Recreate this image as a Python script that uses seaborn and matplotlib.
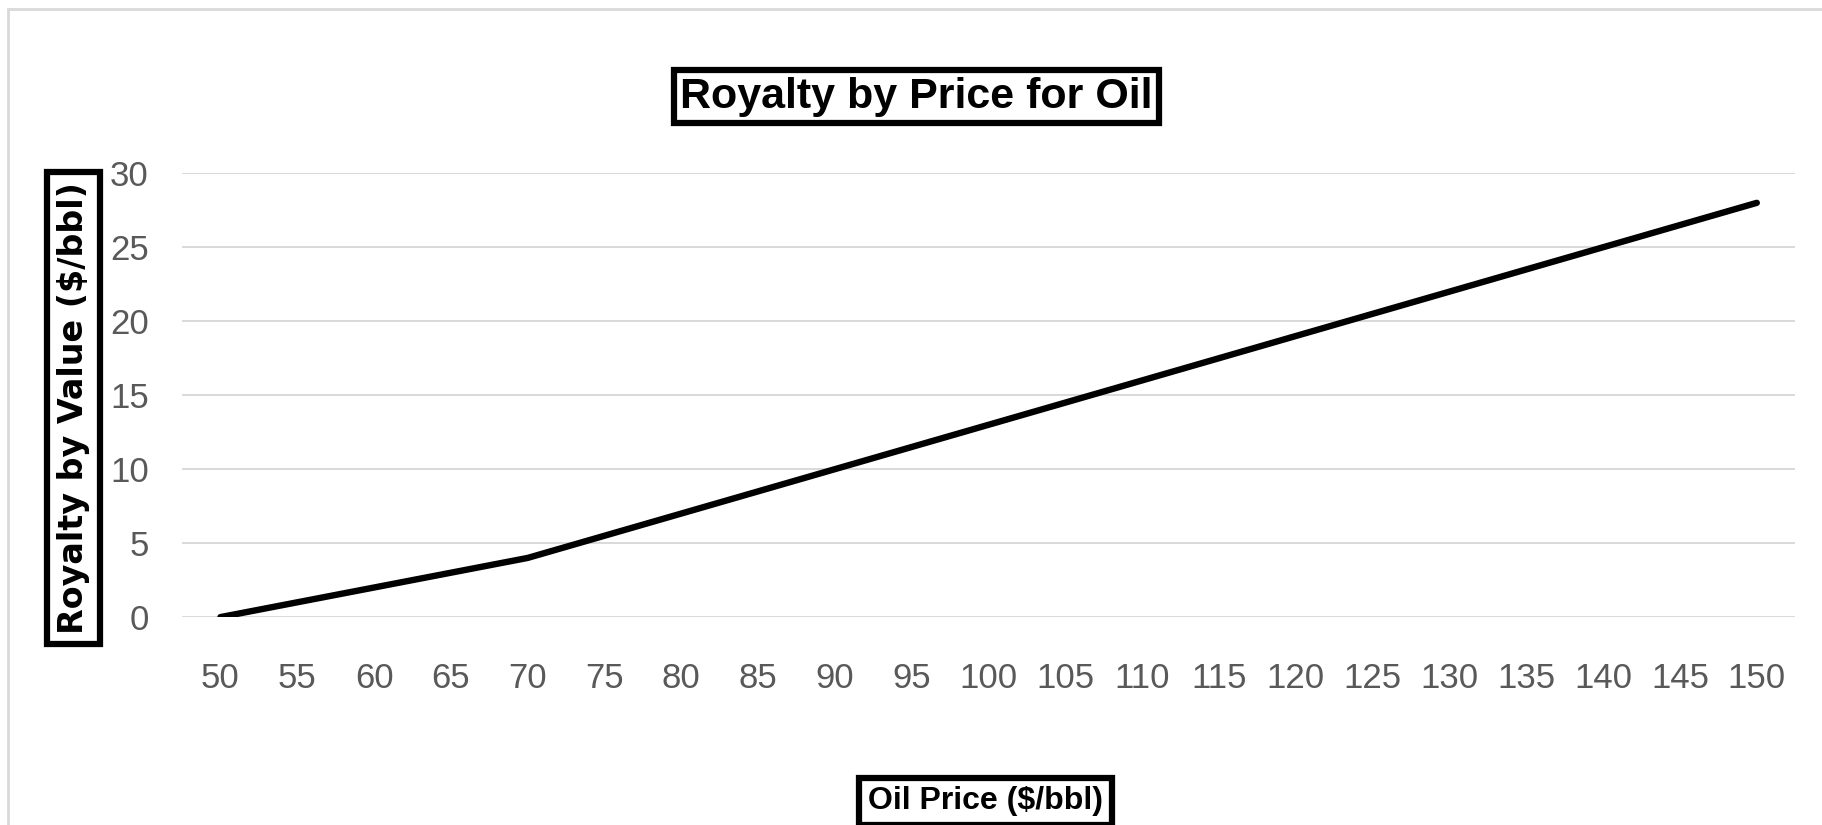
import matplotlib
matplotlib.use("Agg")
import matplotlib.pyplot as plt
import matplotlib.patches as mpatches
import pandas as pd
import seaborn as sns

# Data
oil_price = [50, 55, 60, 65, 70, 75, 80, 85, 90, 95, 100,
             105, 110, 115, 120, 125, 130, 135, 140, 145, 150]
royalty = [0, 1, 2, 3, 4, 5.5, 7, 8.5, 10, 11.5, 13,
           14.5, 16, 17.5, 19, 20.5, 22, 23.5, 25, 26.5, 28]
y_ticks = [0, 5, 10, 15, 20, 25, 30]

TITLE = "Royalty by Price for Oil"
XLABEL = "Oil Price ($/bbl)"
YLABEL = "Royalty by Value ($/bbl)"

sns.set_theme(style="white")
plt.rcParams["font.family"] = ["Liberation Sans", "DejaVu Sans"]

df = pd.DataFrame({"price": oil_price, "royalty": royalty})

fig = plt.figure(figsize=(18.22, 8.25), dpi=100)
ax = fig.add_axes([0.0999, 0.252, 0.8854, 0.538])

# outer chart border (light grey, as in Excel)
fig.patches.append(mpatches.Rectangle((0.0045, -0.02), 1.2, 1.009,
                                      transform=fig.transFigure, fill=False,
                                      edgecolor="#d9d9d9", linewidth=2))

# gridlines
for t in y_ticks:
    ax.axhline(t, color="#d9d9d9", linewidth=1.4, zorder=0)

sns.lineplot(data=df, x="price", y="royalty", ax=ax, color="black",
             linewidth=4.6, zorder=3)

ax.set_xlim(47.5, 152.5)
ax.set_ylim(0, 30)
ax.set_xticks(oil_price)
ax.set_yticks(y_ticks)
ax.set_xticklabels([str(p) for p in oil_price])
ax.set_yticklabels([str(t) for t in y_ticks])
ax.tick_params(axis="both", length=0, labelsize=25, colors="#595959")
ax.tick_params(axis="y", pad=24)
ax.tick_params(axis="x", pad=32)
ax.set_xlabel("")
ax.set_ylabel("")
for s in ax.spines.values():
    s.set_visible(False)

fig.text(0.503, 0.883, TITLE, ha="center", va="center", fontsize=31,
         fontweight="bold", color="black",
         bbox=dict(boxstyle="square,pad=0.14", facecolor="white",
                   edgecolor="black", linewidth=4.5))
fig.text(0.0406, 0.505, YLABEL, ha="center", va="center", rotation=90,
         fontsize=24, fontweight="bold", color="black",
         family=["DejaVu Sans"],
         bbox=dict(boxstyle="square,pad=0.3", facecolor="white",
                   edgecolor="black", linewidth=4.5))
fig.text(0.541, 0.0285, XLABEL, ha="center", va="center", fontsize=23,
         fontweight="bold", color="black",
         bbox=dict(boxstyle="square,pad=0.28", facecolor="white",
                   edgecolor="black", linewidth=4.5))

fig.savefig("out.png", dpi=100)
